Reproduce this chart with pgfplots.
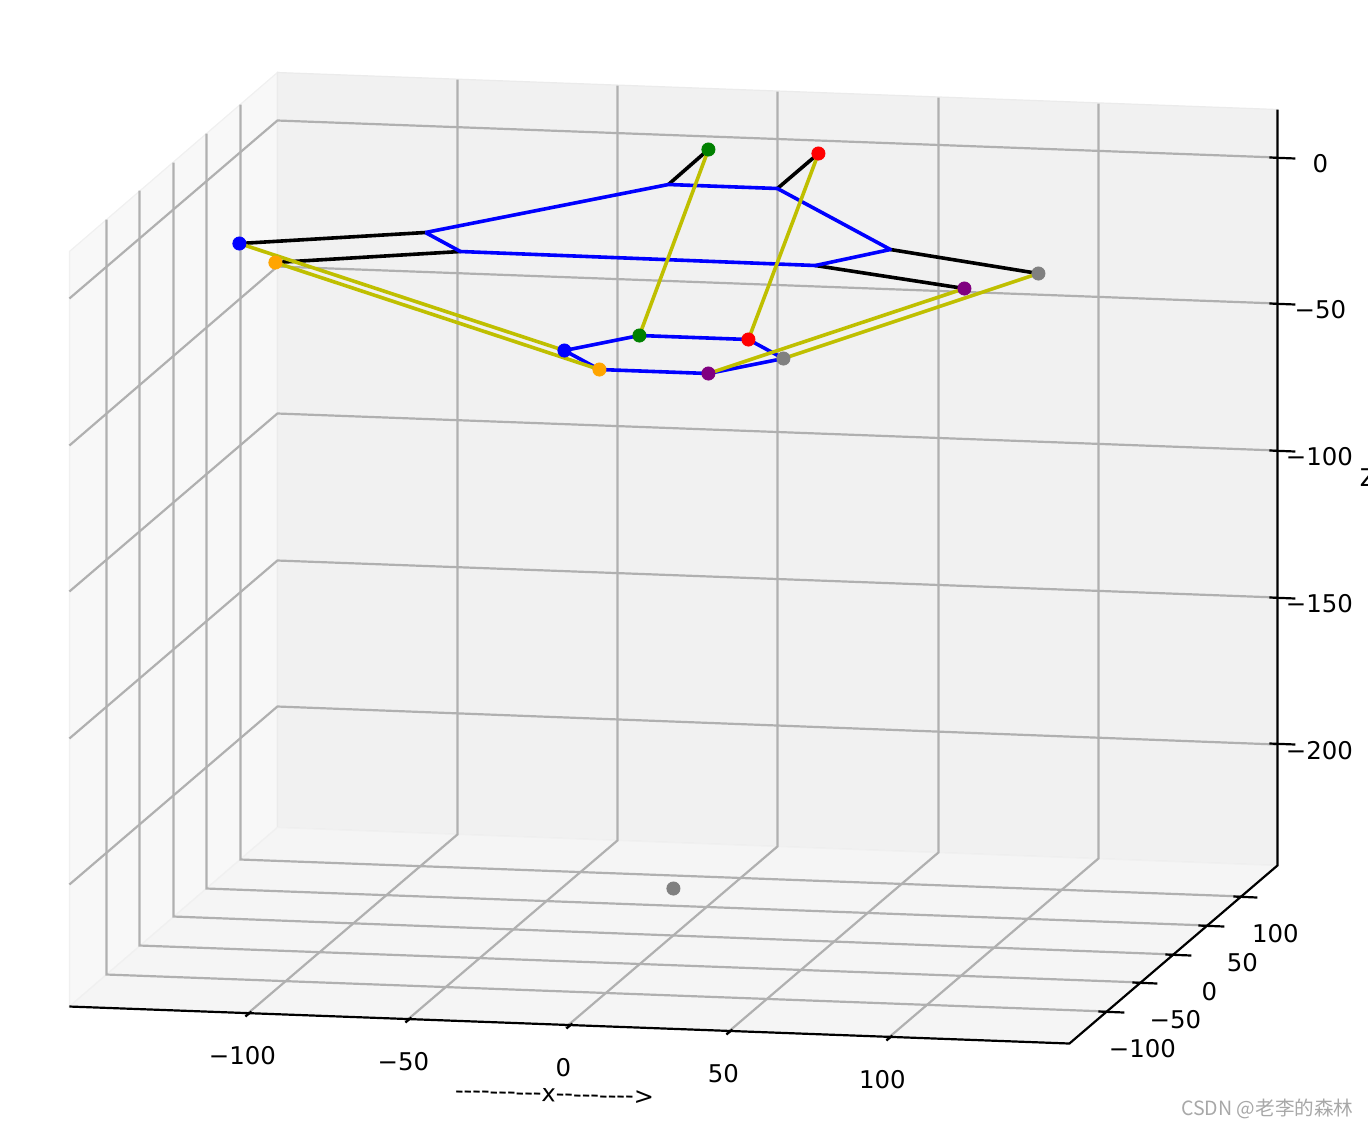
\documentclass[border=0pt]{standalone}
\usepackage{pgfplots}
\pgfplotsset{compat=1.18}
\usepackage{fontspec}
\setmainfont{DejaVu Sans}
\newfontfamily\cjk{Noto Sans CJK SC}
\definecolor{gridc}{HTML}{B0B0B0}
\definecolor{yl}{HTML}{BFBF00}
\definecolor{orng}{HTML}{FFA500}
\definecolor{grn}{HTML}{008000}
\definecolor{prp}{HTML}{800080}
\definecolor{gry}{HTML}{808080}
\definecolor{wallL}{HTML}{F8F8F8}
\definecolor{wallB}{HTML}{F1F1F1}
\definecolor{floorc}{HTML}{F5F5F5}
\tikzset{
  lbl/.style={font=\fontsize{12.2}{14}\selectfont,inner sep=0pt,anchor=center},
}
\pgfplotsset{
  gl/.style={gridc,line width=1.1pt,no markers,forget plot},
  ax/.style={black,line width=1.1pt,no markers,forget plot},
  bk/.style={black,line width=1.8pt,no markers,forget plot,line join=round},
  bl/.style={blue,line width=1.8pt,no markers,forget plot,line join=round},
  ye/.style={yl,line width=1.8pt,no markers,forget plot},
  pt/.style={only marks,mark=*,mark size=3.3pt,mark options={draw=#1,fill=#1},forget plot},
}
\begin{document}
\begin{tikzpicture}[x=1pt,y=1pt]
\useasboundingbox (0,0) rectangle (684,563);
\begin{axis}[
  at={(0.2pt,-0.25pt)},anchor=south west,
  width=684pt,height=563pt,scale only axis,
  xmin=0,xmax=1368,ymin=0,ymax=1126,y dir=reverse,
  hide axis,clip=false,
]
% panes
\addplot[fill=wallL,draw=black!6,line width=0.6pt,forget plot] coordinates {(69,251)(277,72)(277,827)(69,1006)} -- cycle;
\addplot[fill=wallB,draw=black!8,line width=0.6pt,forget plot] coordinates {(277,72)(1277,109)(1277,865)(277,827)} -- cycle;
\addplot[fill=floorc,draw=black!6,line width=0.6pt,forget plot] coordinates {(69,1006)(277,827)(1277,865)(1069,1043)} -- cycle;
% x grid
\addplot[gl] coordinates {(457,79)(457,834)(245,1015)};
\addplot[gl] coordinates {(617,85)(617,840)(405,1021)};
\addplot[gl] coordinates {(777,91)(777,846)(565,1027)};
\addplot[gl] coordinates {(938,97)(938,852)(726,1033)};
\addplot[gl] coordinates {(1098,103)(1098,858)(886,1039)};
% y grid
\addplot[gl] coordinates {(106,219)(106,974)(1107,1011)};
\addplot[gl] coordinates {(139,190)(139,945)(1142,982)};
\addplot[gl] coordinates {(173,162)(173,916)(1175,954)};
\addplot[gl] coordinates {(206,133)(206,888)(1208,925)};
\addplot[gl] coordinates {(240,104)(240,859)(1243,896)};
% z grid
\addplot[gl] coordinates {(69,298)(277,120)(1277,157)};
\addplot[gl] coordinates {(69,445)(277,266)(1277,303)};
\addplot[gl] coordinates {(69,591)(277,413)(1277,450)};
\addplot[gl] coordinates {(69,738)(277,560)(1277,597)};
\addplot[gl] coordinates {(69,884)(277,706)(1277,744)};
% axis lines
\addplot[ax] coordinates {(69,1006)(1069,1043)(1277,865)(1277,109)};
% ticks
\addplot[ax] coordinates {(1269,157)(1295,158)};
\addplot[ax] coordinates {(1269,303)(1295,304)};
\addplot[ax] coordinates {(1269,450)(1295,451)};
\addplot[ax] coordinates {(1269,597)(1295,598)};
\addplot[ax] coordinates {(1269,743)(1295,744)};
\addplot[ax] coordinates {(1233,896)(1257,897)};
\addplot[ax] coordinates {(1198,925)(1224,926)};
\addplot[ax] coordinates {(1165,954)(1191,955)};
\addplot[ax] coordinates {(1132,982)(1157,983)};
\addplot[ax] coordinates {(1098,1011)(1124,1012)};
\addplot[ax] coordinates {(245,1016)(251,1011)};
\addplot[ax] coordinates {(405,1022)(411,1017)};
\addplot[ax] coordinates {(566,1028)(572,1023)};
\addplot[ax] coordinates {(726,1034)(732,1029)};
\addplot[ax] coordinates {(886,1040)(892,1035)};
% black
\addplot[bk] coordinates {(239,243)(425,232)};
\addplot[bk] coordinates {(275,262)(460,251)};
\addplot[bk] coordinates {(708,149)(668,184)};
\addplot[bk] coordinates {(818,153)(777,188)};
\addplot[bk] coordinates {(1038,273)(890,249)};
\addplot[bk] coordinates {(964,288)(815,265)};
% blue
\addplot[bl] coordinates {(425,232)(668,184)(777,188)(890,249)(815,265)(460,251)(425,232)};
\addplot[bl] coordinates {(564,350)(639,335)(748,339)(783,358)(708,373)(599,369)(564,350)};
% yellow
\addplot[ye] coordinates {(239,243)(564,350)};
\addplot[ye] coordinates {(275,262)(599,369)};
\addplot[ye] coordinates {(708,149)(639,335)};
\addplot[ye] coordinates {(818,153)(748,339)};
\addplot[ye] coordinates {(964,288)(708,373)};
\addplot[ye] coordinates {(1038,273)(783,358)};
% points
\addplot[pt=blue] coordinates {(239,243)(564,350)};
\addplot[pt=orng] coordinates {(275,262)(599,369)};
\addplot[pt=grn] coordinates {(708,149)(639,335)};
\addplot[pt=red] coordinates {(818,153)(748,339)};
\addplot[pt=prp] coordinates {(964,288)(708,373)};
\addplot[pt=gry] coordinates {(1038,273)(783,358)(673,888)};
% tick labels
\node[lbl] at (axis cs:242,1055) {−100};
\node[lbl] at (axis cs:403,1061) {−50};
\node[lbl] at (axis cs:563,1067) {0};
\node[lbl] at (axis cs:723,1073) {50};
\node[lbl] at (axis cs:882,1079) {100};
\node[lbl] at (axis cs:1142,1048) {−100};
\node[lbl] at (axis cs:1175,1019) {−50};
\node[lbl] at (axis cs:1209,991) {0};
\node[lbl] at (axis cs:1242,962) {50};
\node[lbl] at (axis cs:1275,933) {100};
\node[lbl] at (axis cs:1320,163) {0};
\node[lbl] at (axis cs:1320,309) {−50};
\node[lbl] at (axis cs:1319,456) {−100};
\node[lbl] at (axis cs:1319,603) {−150};
\node[lbl] at (axis cs:1319,750) {−200};
\node[lbl,rotate=-2,font=\fontsize{12}{14}\selectfont] at (axis cs:554,1094) {-{}-{}-{}-{}-{}-{}-{}-{}-{}-x-{}-{}-{}-{}-{}-{}-{}-{}-{}>};
\node[lbl,anchor=west] at (axis cs:1359,477) {Z};
\node[inner sep=0pt,anchor=center,text=black!34] at (axis cs:1267,1108) {\fontsize{9.8}{11}\selectfont\cjk CSDN @老李的森林};
\end{axis}
\end{tikzpicture}
\end{document}
